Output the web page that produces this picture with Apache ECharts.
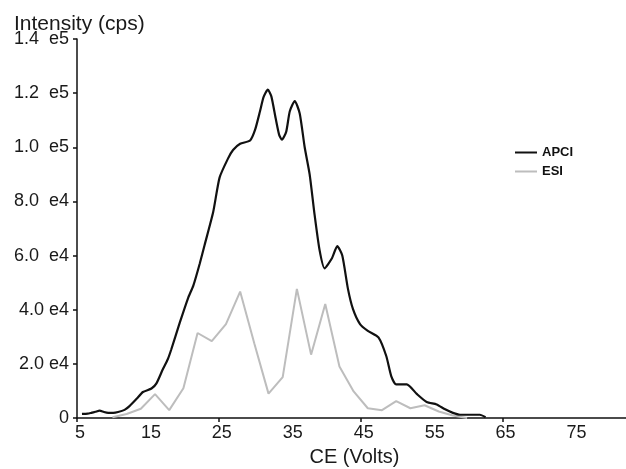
<!DOCTYPE html>
<html>
<head>
<meta charset="utf-8">
<script src="https://cdn.jsdelivr.net/npm/echarts@6/dist/echarts.min.js"></script>
<style>
  html, body { margin: 0; padding: 0; background: #ffffff; }
  #chart { width: 626px; height: 469px; }
</style>
</head>
<body>
<div id="chart"></div>
<script>
// Collision energy (V) and signal intensity (cps) for the two ion sources
const apciVolts = [5.7, 6.5, 7.0, 7.6, 8.2, 8.8, 9.4, 10.1, 10.8, 11.7, 12.4, 13.4, 14.3, 15.5, 16.2,
  17.1, 17.8, 18.3, 19.5, 20.7, 21.4, 22.3, 23.0, 24.2, 25.1, 26.3, 27.0, 28.0, 29.4, 30.1,
  30.8, 31.3, 31.9, 32.4, 33.0, 33.5, 33.9, 34.5, 35.0, 35.7, 36.4, 37.1, 37.8, 38.5, 39.2,
  39.9, 40.9, 41.7, 42.4, 43.2, 43.9, 44.9, 46.0, 47.5, 48.6, 49.3, 50.0, 51.5, 52.9, 54.3,
  55.7, 56.9, 58.0, 59.0, 61.8, 62.6];
const apciCps = [1500, 1600, 1900, 2300, 2700, 2200, 1900, 1900, 2200, 3000, 4400, 7100, 9600, 10900, 12800,
  18000, 21700, 25400, 35300, 44600, 48900, 57000, 64000, 76100, 88800, 95900, 99000, 101300, 102500, 106400,
  113300, 118500, 121300, 118800, 110800, 104600, 102800, 105800, 113300, 117100, 112500, 100000, 90000, 75000, 62000,
  55300, 58800, 63500, 60000, 47700, 40300, 34700, 32200, 29800, 22900, 15500, 12400, 12400, 8900, 5900,
  5000, 3200, 1900, 1200, 1200, 300];

const esiVolts = [10, 12, 14, 16, 18, 20, 22, 24, 26, 28, 30, 32, 34, 36, 38, 40, 42, 44, 46, 48, 50, 52, 54, 56, 58, 60];
const esiCps = [300, 1500, 3400, 8800, 2900, 11000, 31400, 28400, 34700, 46700, 27500, 9000, 15100, 47700,
  23400, 42100, 19000, 9800, 3600, 2900, 6200, 3600, 4700, 2400, 900, 0];

const xLabelValues = [5, 15, 25, 35, 45, 55, 65, 75];
const xTickValues = [5, 25, 45, 65];
const yTickLabels = ['0', '2.0 e4', '4.0 e4', '6.0  e4', '8.0  e4', '1.0  e5', '1.2  e5', '1.4  e5'];

const pairs = (xs, ys) => xs.map((x, i) => [x, ys[i]]);

const chart = echarts.init(document.getElementById('chart'), null, { renderer: 'canvas' });
const fontFamily = '"Liberation Sans", Arial, sans-serif';

chart.setOption({
  backgroundColor: '#ffffff',
  animation: false,
  title: {
    text: 'Intensity (cps)',
    left: 9,
    top: 9,
    textStyle: { fontFamily, fontSize: 21, fontWeight: 'normal', color: '#1a1a1a' }
  },
  legend: {
    orient: 'vertical',
    left: 510,
    top: 141,
    itemWidth: 22,
    itemHeight: 2,
    itemGap: 6,
    icon: 'rect',
    data: ['APCI', 'ESI'],
    textStyle: { fontFamily, fontSize: 13, fontWeight: 'bold', color: '#111' }
  },
  grid: { left: 77, right: 0, top: 39, bottom: 51, containLabel: false, outerBoundsMode: 'none' },
  xAxis: {
    type: 'value',
    min: 5,
    max: 82.4,
    name: 'CE (Volts)',
    nameLocation: 'middle',
    nameGap: 29,
    nameTextStyle: { fontFamily, fontSize: 20, color: '#1a1a1a', padding: [0, 0, 0, 6] },
    axisLine: { show: true, onZero: false, lineStyle: { color: '#111', width: 1.5 } },
    axisTick: { show: true, inside: false, length: 4, customValues: xTickValues, lineStyle: { color: '#111', width: 1.5 } },
    axisLabel: { customValues: xLabelValues, margin: 6, fontFamily, fontSize: 18, color: '#1a1a1a', padding: [0, 0, 0, 6] },
    splitLine: { show: false }
  },
  yAxis: {
    type: 'value',
    min: 0,
    max: 140000,
    interval: 20000,
    axisLine: { show: true, lineStyle: { color: '#111', width: 1.5 } },
    axisTick: { show: true, inside: false, length: 4, lineStyle: { color: '#111', width: 1.5 } },
    axisLabel: {
      margin: 8,
      fontFamily,
      fontSize: 18,
      color: '#1a1a1a',
      formatter: v => yTickLabels[Math.round(v / 20000)]
    },
    splitLine: { show: false }
  },
  series: [
    {
      name: 'ESI',
      type: 'line',
      data: pairs(esiVolts, esiCps),
      showSymbol: false,
      symbol: 'none',
      lineStyle: { color: '#bdbdbd', width: 2 },
      itemStyle: { color: '#bdbdbd' },
      z: 2
    },
    {
      name: 'APCI',
      type: 'line',
      data: pairs(apciVolts, apciCps),
      showSymbol: false,
      symbol: 'none',
      smooth: 0.2,
      lineStyle: { color: '#111111', width: 2.2 },
      itemStyle: { color: '#111111' },
      z: 3
    }
  ]
});
</script>
</body>
</html>
